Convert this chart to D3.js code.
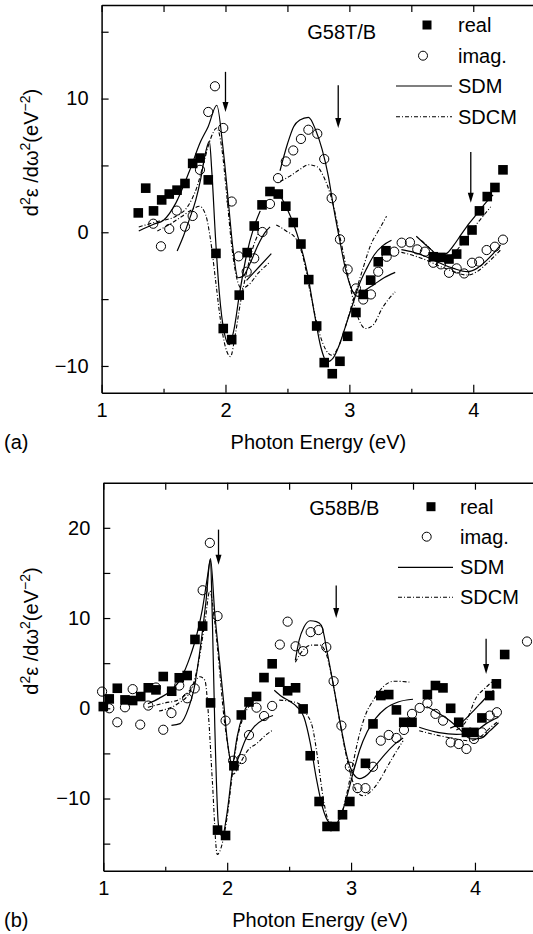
<!DOCTYPE html>
<html>
<head>
<meta charset="utf-8">
<script src="https://cdn.jsdelivr.net/npm/d3@7"></script>
<style>
body { margin: 0; background: #fff; }
text { font-family: "Liberation Sans", Arial, sans-serif; }
</style>
</head>
<body>
<div class="chart"></div>
<script>

// ---- panel (a) G58T/B ----
const topReal = [[1.296,1.45],[1.356,3.30],[1.419,1.60],[1.485,2.42],[1.546,2.86],[1.609,3.15],[1.673,3.65],[1.735,5.15],[1.794,5.55],[1.861,3.92],[1.923,-1.58],[1.982,-7.20],[2.050,-8.03],[2.111,-4.70],[2.175,-1.52],[2.232,0.47],[2.295,2.05],[2.359,3.05],[2.426,2.86],[2.487,1.95],[2.547,0.73],[2.609,-0.88],[2.672,-3.54],[2.736,-7.01],[2.797,-9.75],[2.862,-10.58],[2.924,-9.65],[2.986,-7.78],[3.053,-6.00],[3.112,-4.65],[3.172,-3.58],[3.233,-2.21],[3.295,-1.38],[3.677,-1.83],[3.739,-1.88],[3.804,-2.00],[3.866,-1.63],[3.927,-0.63],[3.990,0.17],[4.050,1.60],[4.113,2.67],[4.175,3.35],[4.240,4.67]];

const topImag = [[1.417,0.64],[1.479,-1.05],[1.546,0.25],[1.606,1.62],[1.673,0.42],[1.735,1.22],[1.794,4.67],[1.861,9.00],[1.915,10.92],[1.982,7.80],[2.050,2.30],[2.106,-1.80],[2.171,-2.95],[2.232,-1.95],[2.298,0.02],[2.359,2.12],[2.424,4.05],[2.487,5.30],[2.547,6.12],[2.609,6.98],[2.669,7.67],[2.741,7.37],[2.797,5.48],[2.857,2.55],[2.924,-0.53],[2.986,-2.78],[3.053,-4.20],[3.112,-5.03],[3.174,-4.65],[3.233,-2.95],[3.301,-1.83],[3.362,-1.45],[3.422,-0.78],[3.489,-0.75],[3.548,-1.28],[3.610,-1.45],[3.677,-2.28],[3.739,-2.40],[3.804,-3.03],[3.866,-2.70],[3.927,-3.08],[3.990,-2.28],[4.048,-2.20],[4.108,-1.33],[4.175,-1.08],[4.240,-0.55]];

const topSdm = [
  [[1.30,0.1],[1.42,0.6],[1.50,0.9],[1.60,2.2],[1.71,4.6],[1.80,6.8],[1.86,7.9],[1.93,9.5],[1.98,6.3],[2.02,2.6],[2.06,-1.2],[2.10,-3.4],[2.14,-3.3],[2.20,-2.3],[2.26,-1.0],[2.32,0.0],[2.36,0.4]],
  [[1.61,-1.4],[1.66,-0.3],[1.71,1.0],[1.76,2.4],[1.80,4.0],[1.84,6.0],[1.87,6.8],[1.89,4.5],[1.92,-0.5],[1.95,-4.5],[1.99,-7.5],[2.03,-8.4],[2.07,-7.2],[2.11,-4.8],[2.17,-1.7],[2.23,0.4],[2.28,1.6]],
  [[2.17,-3.6],[2.27,-2.6],[2.37,-1.6]],
  [[2.44,4.6],[2.50,6.6],[2.55,7.9],[2.60,8.4],[2.67,8.6],[2.73,7.6],[2.78,6.2],[2.83,4.2],[2.87,2.0],[2.92,-0.5],[2.97,-2.8],[3.02,-4.3],[3.07,-4.8],[3.12,-4.4],[3.20,-3.9],[3.28,-3.4],[3.37,-3.0]],
  [[2.40,3.1],[2.45,2.6],[2.50,1.7],[2.55,0.6],[2.60,-0.8],[2.66,-3.0],[2.72,-6.2],[2.77,-8.6],[2.82,-9.7],[2.87,-9.4],[2.92,-8.4],[2.97,-7.0],[3.03,-5.3],[3.08,-3.9],[3.14,-2.7],[3.20,-1.7],[3.27,-1.0],[3.34,-0.6]],
  [[3.42,-1.3],[3.52,-1.5],[3.62,-1.83],[3.73,-2.3],[3.84,-2.7],[3.95,-2.95],[4.03,-2.7],[4.11,-2.08],[4.17,-1.5],[4.22,-0.95]],
  [[3.54,-0.3],[3.60,-0.8],[3.66,-1.3],[3.72,-1.7],[3.78,-1.6],[3.84,-1.0],[3.90,-0.2],[3.97,0.7],[4.04,1.5],[4.10,2.2],[4.16,2.8]]
];

const topSdcm = [
  [[1.30,0.4],[1.45,0.8],[1.60,1.2],[1.70,2.0],[1.77,3.4],[1.83,5.4],[1.88,7.0],[1.93,7.8],[1.97,6.3],[2.01,2.8],[2.05,-1.0],[2.09,-3.4],[2.13,-4.2],[2.19,-3.9],[2.27,-3.0],[2.35,-2.3]],
  [[1.45,0.1],[1.55,0.6],[1.65,1.2],[1.73,1.7],[1.79,1.95],[1.84,1.3],[1.88,-0.6],[1.92,-3.6],[1.96,-6.6],[2.00,-8.6],[2.04,-9.3],[2.08,-7.6],[2.12,-5.3],[2.17,-3.0],[2.22,-1.2],[2.27,0.0]],
  [[2.44,3.8],[2.52,4.2],[2.60,4.7],[2.67,5.05],[2.74,4.9],[2.79,4.2],[2.86,2.4],[2.93,-0.6],[2.99,-3.3],[3.06,-6.1],[3.13,-7.2],[3.19,-6.95],[3.27,-5.6],[3.37,-4.45]],
  [[2.41,0.55],[2.49,0.1],[2.57,-0.5],[2.63,-2.0],[2.68,-4.3],[2.76,-7.6],[2.81,-8.8],[2.86,-9.2],[2.91,-8.6],[2.96,-7.3],[3.03,-5.1],[3.10,-3.0],[3.17,-1.0],[3.24,0.2],[3.30,1.2]],
  [[3.42,-1.5],[3.52,-1.75],[3.62,-2.08],[3.72,-2.5],[3.81,-2.83],[3.95,-3.2],[4.03,-2.95],[4.11,-2.33],[4.17,-1.8],[4.22,-1.33]],
  [[3.58,-0.6],[3.65,-1.2],[3.72,-1.8],[3.79,-1.9],[3.86,-1.4],[3.93,-0.6],[4.00,0.3],[4.07,1.1],[4.14,1.9]]
];

// arrows: [x, yFrom, yTo]
const topArrows = [[2.0,12,9],[2.91,11,7.8],[3.98,6,2.2]];

// ---- panel (b) G58B/B ----
const botReal = [[1.0,0.19],[1.048,1.04],[1.113,2.22],[1.175,0.93],[1.237,0.86],[1.302,1.30],[1.363,2.27],[1.425,2.04],[1.484,3.52],[1.552,1.89],[1.613,3.38],[1.677,3.63],[1.740,7.63],[1.802,9.11],[1.866,0.6],[1.922,-13.5],[1.987,-14.1],[2.054,-6.37],[2.114,-0.74],[2.176,0.7],[2.237,1.31],[2.297,3.4],[2.363,4.93],[2.425,2.89],[2.488,1.94],[2.552,2.27],[2.613,-0.07],[2.67,-5.26],[2.742,-10.33],[2.806,-13.1],[2.869,-13.1],[2.931,-11.8],[2.990,-10.33],[3.116,-6.1],[3.177,-1.73],[3.240,1.41],[3.304,1.52],[3.366,-0.18],[3.425,-1.55],[3.492,-1.55],[3.616,1.52],[3.681,2.52],[3.742,2.26],[3.804,0.0],[3.869,-1.55],[3.931,-2.67],[3.992,-2.67],[4.056,-1.07],[4.119,1.41],[4.173,2.71],[4.24,5.96]];

const botImag = [[0.99,1.85],[1.048,0.0],[1.113,-1.55],[1.175,0.11],[1.237,2.12],[1.298,-1.81],[1.363,0.3],[1.425,2.3],[1.484,-2.38],[1.55,-0.53],[1.613,2.52],[1.677,1.11],[1.738,2.2],[1.802,13.08],[1.860,18.33],[1.922,10.22],[1.987,-1.37],[2.048,-5.81],[2.116,-5.63],[2.176,-2.97],[2.237,0.07],[2.298,-0.86],[2.363,0.26],[2.425,7.06],[2.488,9.6],[2.552,6.87],[2.613,6.33],[2.674,8.44],[2.737,8.67],[2.80,6.78],[2.859,3.0],[2.922,-1.92],[2.99,-6.48],[3.052,-8.85],[3.116,-8.85],[3.177,-6.48],[3.240,-3.59],[3.304,-2.96],[3.366,-3.29],[3.427,-2.4],[3.492,-0.62],[3.554,0.04],[3.616,0.56],[3.681,-0.62],[3.742,-1.37],[3.804,-3.78],[3.869,-3.96],[3.931,-4.51],[3.992,-3.4],[4.056,-2.67],[4.119,-0.81],[4.177,-0.44],[4.42,7.4]];

const botSdm = [
  [[1.36,0.5],[1.45,1.1],[1.55,2.0],[1.63,3.4],[1.70,5.7],[1.75,7.9],[1.80,11.0],[1.84,14.5],[1.865,16.5],[1.88,10],[1.90,-2],[1.93,-13.0],[1.96,-14.2],[2.00,-11.5],[2.04,-7.0],[2.08,-3.2],[2.13,-0.6],[2.18,0.7],[2.24,1.5]],
  [[1.55,-1.9],[1.62,-1.7],[1.69,0.1],[1.73,2.0],[1.78,6.4],[1.83,12.0],[1.865,16.6],[1.90,10.5],[1.94,5.0],[1.97,0.9],[2.00,-3.5],[2.03,-6.0],[2.05,-6.6],[2.09,-5.5],[2.15,-3.4],[2.22,-2.0],[2.30,-1.2],[2.37,-0.8]],
  [[2.55,5.3],[2.58,7.5],[2.62,9.0],[2.67,9.7],[2.72,9.6],[2.76,9.2],[2.81,6.0],[2.87,1.6],[2.92,-2.2],[2.97,-5.5],[3.02,-7.3],[3.07,-7.8],[3.13,-7.4],[3.20,-6.3],[3.28,-5.0],[3.35,-4.0],[3.42,-3.3]],
  [[2.38,2.0],[2.44,1.3],[2.50,0.8],[2.56,0.2],[2.62,-1.0],[2.67,-3.8],[2.72,-7.8],[2.77,-11.0],[2.82,-12.6],[2.87,-12.9],[2.92,-11.8],[2.97,-9.6],[3.02,-7.0],[3.07,-4.6],[3.13,-2.6],[3.20,-1.1],[3.28,0.0],[3.38,0.7],[3.50,1.0]],
  [[3.61,0.2],[3.69,-0.4],[3.80,-1.4],[3.89,-2.5],[3.97,-3.4],[4.05,-3.3],[4.12,-2.5],[4.19,-1.6]],
  [[3.55,-2.1],[3.71,-2.7],[3.85,-2.9],[3.93,-2.85],[4.02,-2.4],[4.09,-1.7],[4.19,-1.0]],
  [[3.80,-2.2],[3.88,-1.7],[3.98,-0.4],[4.09,1.2],[4.15,2.0]]
];

const botSdcm = [
  [[1.36,0.1],[1.50,0.6],[1.60,0.9],[1.70,2.0],[1.78,3.5],[1.82,3.1],[1.85,-1.0],[1.88,-8.0],[1.92,-16.2],[1.96,-15.0],[2.00,-12.0],[2.04,-7.5],[2.08,-3.5],[2.13,-1.0],[2.20,0.6],[2.26,1.3]],
  [[1.45,-0.3],[1.60,0.5],[1.70,1.8],[1.76,4.5],[1.82,9.5],[1.86,13.0],[1.90,9.5],[1.94,4.0],[1.97,-0.5],[2.01,-4.5],[2.05,-7.3],[2.10,-6.2],[2.17,-4.6],[2.24,-3.9],[2.30,-3.1],[2.37,-2.4]],
  [[2.55,5.1],[2.61,6.4],[2.68,7.0],[2.75,7.0],[2.80,6.0],[2.85,3.1],[2.90,-0.8],[2.95,-4.5],[3.00,-7.5],[3.05,-9.3],[3.10,-9.7],[3.16,-9.2],[3.22,-8.2],[3.30,-6.3],[3.36,-4.9],[3.42,-3.6]],
  [[2.42,0.9],[2.50,0.8],[2.58,0.5],[2.64,-0.6],[2.69,-2.2],[2.73,-5.5],[2.77,-9.5],[2.81,-12.2],[2.86,-13.2],[2.91,-12.3],[2.96,-9.8],[3.01,-6.5],[3.06,-3.3],[3.12,-0.6],[3.18,0.9],[3.26,2.4],[3.35,3.0],[3.47,2.9]],
  [[3.55,-2.5],[3.70,-3.0],[3.85,-3.4],[3.95,-3.6],[4.05,-3.1],[4.12,-2.2],[4.19,-1.4]],
  [[3.85,-2.4],[3.93,-1.4],[4.01,1.2],[4.08,2.2],[4.15,3.1]]
];

const botArrows = [[1.93,19.8,15.9],[2.88,13.6,10.0],[4.09,7.7,3.8]];

const xTicksMajor = [1,2,3,4];
const xTicksMinor = [1.5,2.5,3.5,4.5];

const svg = d3.select(".chart").append("svg")
    .attr("width", 533)
    .attr("height", 934);

function drawPanel(p) {
    const x = d3.scaleLinear().domain([1,4.5]).range([p.left, p.left + 433.6]);
    const y = d3.scaleLinear().domain(p.yDomain).range([p.bottom, p.top]);
    const g = svg.append("g");

    // bottom axis, major + minor ticks pointing in
    g.append("g")
        .attr("transform", `translate(0,${p.bottom})`)
        .call(d3.axisBottom(x).tickValues(xTicksMajor).tickSizeInner(-8).tickSizeOuter(0).tickPadding(10).tickFormat(d3.format("d")));
    g.append("g")
        .attr("transform", `translate(0,${p.bottom})`)
        .call(d3.axisBottom(x).tickValues(xTicksMinor).tickSizeInner(-4).tickSizeOuter(0).tickFormat(""))
        .select(".domain").remove();

    // top axis
    g.append("g")
        .attr("transform", `translate(0,${p.top})`)
        .call(d3.axisTop(x).tickValues(xTicksMajor.concat(xTicksMinor)).tickSizeInner(-7).tickSizeOuter(0).tickFormat(""));

    // left axis
    g.append("g")
        .attr("transform", `translate(${p.left},0)`)
        .call(d3.axisLeft(y).tickValues(p.yTicks).tickSizeInner(-7).tickSizeOuter(0).tickPadding(13)
            .tickFormat(d => p.yLabels.includes(d) ? d3.format("d")(d) : ""));

    g.selectAll(".domain").attr("stroke-width", 1.5);
    g.selectAll(".tick line").attr("stroke-width", 1.2);
    g.selectAll(".tick text").attr("font-size", 20).attr("font-family", "Liberation Sans, Arial, sans-serif").attr("fill", "#000");

    const line = d3.line().x(d => x(d[0])).y(d => y(d[1])).curve(d3.curveMonotoneX);

    g.append("g").selectAll("path.sdm")
        .data(p.sdm).enter().append("path")
        .attr("class", "sdm")
        .attr("d", line)
        .attr("fill", "none").attr("stroke", "#000").attr("stroke-width", 1.2);

    g.append("g").selectAll("path.sdcm")
        .data(p.sdcm).enter().append("path")
        .attr("class", "sdcm")
        .attr("d", line)
        .attr("fill", "none").attr("stroke", "#000").attr("stroke-width", 1.1)
        .attr("stroke-dasharray", "4,2,1,2");

    g.append("g").selectAll("rect")
        .data(p.real).enter().append("rect")
        .attr("x", d => x(d[0]) - 4.8)
        .attr("y", d => y(d[1]) - 4.8)
        .attr("width", 9.6).attr("height", 9.6)
        .attr("fill", "#000");

    g.append("g").selectAll("circle")
        .data(p.imag).enter().append("circle")
        .attr("cx", d => x(d[0]))
        .attr("cy", d => y(d[1]))
        .attr("r", 4.6)
        .attr("fill", "none").attr("stroke", "#000").attr("stroke-width", 1);

    // arrows
    const ar = g.append("g").selectAll("g").data(p.arrows).enter().append("g");
    ar.append("line")
        .attr("x1", d => x(d[0])).attr("x2", d => x(d[0]))
        .attr("y1", d => y(d[1])).attr("y2", d => y(d[2]) - 6)
        .attr("stroke", "#000").attr("stroke-width", 1.3);
    ar.append("path")
        .attr("d", d => {
            const ax = x(d[0]), ay = y(d[2]);
            return `M${ax},${ay}L${ax - 3},${ay - 10}L${ax + 3},${ay - 10}Z`;
        })
        .attr("fill", "#000");

    // sample label
    g.append("text")
        .attr("x", p.nameX).attr("y", p.nameY)
        .attr("text-anchor", "middle").attr("font-size", 20)
        .text(p.name);

    // legend
    const lg = p.legend;
    g.append("rect").attr("x", lg.sqX - 4.5).attr("y", lg.rows[0] - 4.5).attr("width", 9).attr("height", 9).attr("fill", "#000");
    g.append("circle").attr("cx", lg.ciX).attr("cy", lg.rows[1]).attr("r", 4.5).attr("fill", "none").attr("stroke", "#000");
    g.append("line").attr("x1", lg.l1).attr("x2", lg.l2).attr("y1", lg.rows[2]).attr("y2", lg.rows[2])
        .attr("stroke", "#000").attr("stroke-width", 1.2);
    g.append("line").attr("x1", lg.l1).attr("x2", lg.l2).attr("y1", lg.rows[3]).attr("y2", lg.rows[3])
        .attr("stroke", "#000").attr("stroke-width", 1.1).attr("stroke-dasharray", "4,2,1,2");
    ["real", "imag.", "SDM", "SDCM"].forEach((t, i) => {
        g.append("text").attr("x", lg.textX).attr("y", lg.rows[i] + 7).attr("font-size", 20).text(t);
    });

    // axis titles
    g.append("text")
        .attr("x", x(2.75)).attr("y", p.bottom + 56)
        .attr("text-anchor", "middle").attr("font-size", 20)
        .text("Photon Energy (eV)");

    const yl = g.append("text")
        .attr("transform", `translate(38,${p.ylabY}) rotate(-90)`)
        .attr("text-anchor", "middle").attr("font-size", 20);
    yl.append("tspan").text("d");
    yl.append("tspan").attr("dy", -8).attr("font-size", 14).text("2");
    yl.append("tspan").attr("dy", 8).text("ε /dω");
    yl.append("tspan").attr("dy", -8).attr("font-size", 14).text("2");
    yl.append("tspan").attr("dy", 8).text("(eV");
    yl.append("tspan").attr("dy", -8).attr("font-size", 14).text("−2");
    yl.append("tspan").attr("dy", 8).text(")");

    g.append("text").attr("x", 4).attr("y", p.bottom + 56).attr("font-size", 20).text(p.tag);
}

drawPanel({
    left: 101.6, top: 5, bottom: 392.7,
    yDomain: [-12, 17], yTicks: [-10,-5,0,5,10,15], yLabels: [-10,0,10],
    real: topReal, imag: topImag, sdm: topSdm, sdcm: topSdcm, arrows: topArrows,
    name: "G58T/B", nameX: 341.7, nameY: 39,
    legend: {sqX: 427, ciX: 423, l1: 396, l2: 452, textX: 458, rows: [25, 55.7, 86, 116.7]},
    ylabY: 152.5, tag: "(a)"
});

drawPanel({
    left: 103.3, top: 482.7, bottom: 870.7,
    yDomain: [-18, 25], yTicks: [-15,-10,-5,0,5,10,15,20], yLabels: [-10,0,10,20],
    real: botReal, imag: botImag, sdm: botSdm, sdcm: botSdcm, arrows: botArrows,
    name: "G58B/B", nameX: 344.3, nameY: 515,
    legend: {sqX: 431, ciX: 426.7, l1: 398, l2: 453, textX: 460, rows: [506.7, 536.7, 567.3, 597.3]},
    ylabY: 631, tag: "(b)"
});

</script>
</body>
</html>
